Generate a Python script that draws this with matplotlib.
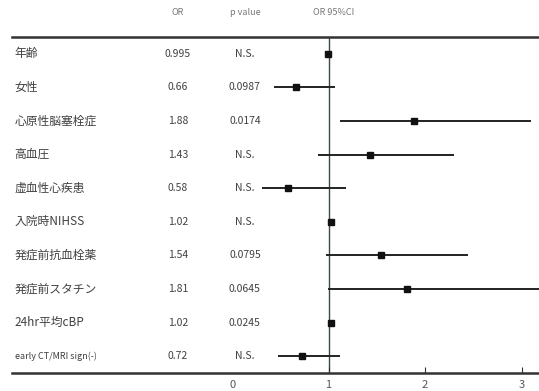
import matplotlib.pyplot as plt

plt.rcParams['font.family'] = ['Noto Sans CJK JP', 'DejaVu Sans']

labels = ['年齢', '女性', '心原性脳塞栓症', '高血圧', '虚血性心疾患',
          '入院時NIHSS', '発症前抗血栓薬', '発症前スタチン', '24hr平均cBP',
          'early CT/MRI sign(-)']
odds = [0.995, 0.66, 1.88, 1.43, 0.58, 1.02, 1.54, 1.81, 1.02, 0.72]
or_text = ['0.995', '0.66', '1.88', '1.43', '0.58', '1.02', '1.54', '1.81', '1.02', '0.72']
p_text = ['N.S.', '0.0987', '0.0174', 'N.S.', 'N.S.', 'N.S.', '0.0795', '0.0645', '0.0245', 'N.S.']
ci_lo = [0.99, 0.43, 1.12, 0.89, 0.31, 1.00, 0.97, 0.99, 1.00, 0.48]
ci_hi = [1.00, 1.07, 3.10, 2.30, 1.18, 1.04, 2.44, 3.40, 1.04, 1.12]
xticks = [0, 1, 2, 3]

fig = plt.figure(figsize=(5.39, 3.91), dpi=100)
ax = fig.add_axes([12 / 539, 18 / 391, 527 / 539, 336 / 391])

n = len(labels)
ys = [i + 0.5 for i in range(n)]
col = '#404040'

ax.hlines(ys, ci_lo, ci_hi, color='#222222', lw=1.4, zorder=2)
ax.plot(odds, ys, 's', color='#111111', ms=5, zorder=3)
ax.axvline(1, color='#3a4a44', lw=1.0, zorder=1)

tr = ax.get_yaxis_transform()
for y, lab, o, p in zip(ys, labels, or_text, p_text):
    fs = 6.5 if lab.startswith('early') else 8.5
    ax.text(0.005, y, lab, transform=tr, ha='left', va='center', fontsize=fs, color=col)
    ax.text(0.315, y, o, transform=tr, ha='center', va='center', fontsize=7.5, color=col)
    ax.text(0.442, y, p, transform=tr, ha='center', va='center', fontsize=7.5, color=col)

ax.text(0.315, -0.72, 'OR', transform=tr, ha='center', va='center', fontsize=6.5, color='#777777')
ax.text(0.442, -0.72, 'p value', transform=tr, ha='center', va='center', fontsize=6.5, color='#777777')
ax.text(0.61, -0.72, 'OR 95%CI', transform=tr, ha='center', va='center', fontsize=6.5, color='#777777')

ax.set_xlim(-2.28, 3.18)
ax.set_ylim(n, 0)
ax.set_xticks(xticks)
ax.set_xticklabels([str(t) for t in xticks], fontsize=8, color='#555555')
ax.tick_params(axis='x', direction='in', length=4, color='#333333', pad=5)
ax.xaxis.get_major_ticks()[0].tick1line.set_visible(False)
ax.set_yticks([])
for s in ['left', 'right']:
    ax.spines[s].set_visible(False)
for s in ['top', 'bottom']:
    ax.spines[s].set_linewidth(1.8)
    ax.spines[s].set_color('#333333')

fig.savefig('out.png', dpi=100)
